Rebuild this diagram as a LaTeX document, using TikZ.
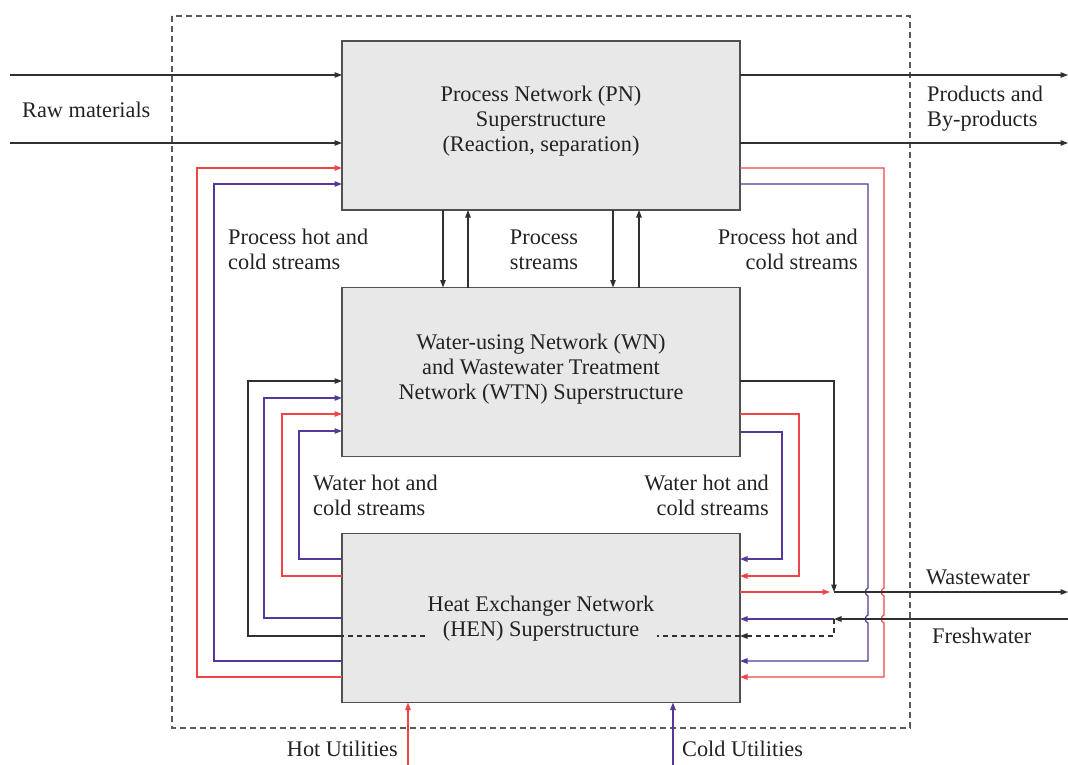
\documentclass[tikz,border=0pt]{standalone}
\usepackage{fontspec}
\setmainfont{Liberation Serif}
\usetikzlibrary{arrows.meta}
\definecolor{boxfill}{HTML}{E8E8E8}
\definecolor{boxline}{HTML}{505050}
\definecolor{darkline}{HTML}{303030}
\definecolor{hotred}{HTML}{F04545}
\definecolor{coldblue}{HTML}{55389A}
\definecolor{framegray}{HTML}{5A5A5A}
\definecolor{txt}{HTML}{222222}
\newcommand\lblfont{\fontsize{22.3}{24.7}\selectfont}
\tikzset{
  every node/.style={font=\lblfont, text=txt},
  unitbox/.style={draw=boxline, fill=boxfill, line width=1.4pt,
    minimum width=398pt, minimum height=169pt, inner sep=0pt, outer sep=0pt},
  lbl/.style={inner sep=0pt},
  flow/.style={line width=1.2pt, -{Triangle[length=7.5pt,width=5.5pt]}},
  hot/.style={flow, draw=hotred},
  cold/.style={flow, draw=coldblue},
  plainflow/.style={flow, draw=darkline},
  bypass/.style={flow, draw=darkline, dash pattern=on 5pt off 4pt},
}
\begin{document}
\begin{tikzpicture}[x=1pt,y=-1pt]
\useasboundingbox (0,0) rectangle (1068,765);

% system boundary
\draw[framegray, line width=1.3pt, dash pattern=on 6pt off 4pt] (172,16) rectangle (910,728);

% the three superstructures
\node[unitbox] (PN)  at (541,125.5) {};
\node[unitbox] (WN)  at (541,372) {};
\node[unitbox] (HEN) at (541,618) {};

\node[lbl, align=center] (PNt) at (541,121) {Process Network (PN)\\Superstructure\\(Reaction, separation)};
\node[lbl, align=center] (WNt) at (541,369) {Water-using Network (WN)\\and Wastewater Treatment\\Network (WTN) Superstructure};

% freshwater bypass line running through the HEN
\draw[darkline, line width=1.2pt, dash pattern=on 5pt off 4pt] (HEN.east |- 0,636) -- (HEN.west |- 0,636);
\node[lbl, align=center, fill=boxfill, inner sep=3pt] (HENt) at (541,618.5) {Heat Exchanger Network\\(HEN) Superstructure};

% raw materials and products
\coordinate (rm1) at (10,75);
\coordinate (rm2) at (10,143);
\coordinate (pr1) at (1068,75);
\coordinate (pr2) at (1068,143);
\draw[plainflow] (rm1) -- (PN.west |- rm1);
\draw[plainflow] (rm2) -- (PN.west |- rm2);
\draw[plainflow] (PN.east |- pr1) -- (pr1);
\draw[plainflow] (PN.east |- pr2) -- (pr2);
\node[lbl, anchor=west] (rmt) at (22,110) {Raw materials};
\node[lbl, anchor=west, align=left] (prt) at (927,109) {Products and\\By-products};

% process streams between PN and WN
\draw[plainflow] (PN.south -| 443,0) -- (WN.north -| 443,0);
\draw[plainflow] (WN.north -| 468,0) -- (PN.south -| 468,0);
\draw[plainflow] (PN.south -| 613,0) -- (WN.north -| 613,0);
\draw[plainflow] (WN.north -| 639,0) -- (PN.south -| 639,0);
\node[lbl, align=center] (pst) at (544,249.5) {Process\\streams};

% process hot and cold streams, HEN -> PN (left side)
\draw[hot]  (HEN.west |- 0,677) -- (197,677) -- (197,168) -- (PN.west |- 0,168);
\draw[cold] (HEN.west |- 0,661) -- (214,661) -- (214,184) -- (PN.west |- 0,184);
\node[lbl, anchor=west, align=left] (phl) at (228,249.5) {Process hot and\\cold streams};

% process hot and cold streams, PN -> HEN (right side, hopping over the water lines)
\draw[hot] (PN.east |- 0,168) -- (884,168) -- (884,588)
  .. controls (880.5,589) and (880.5,595) .. (884,596) -- (884,615)
  .. controls (880.5,616) and (880.5,622) .. (884,623) -- (884,677) -- (HEN.east |- 0,677);
\draw[cold] (PN.east |- 0,184) -- (868,184) -- (868,588)
  .. controls (864.5,589) and (864.5,595) .. (868,596) -- (868,615)
  .. controls (864.5,616) and (864.5,622) .. (868,623) -- (868,661) -- (HEN.east |- 0,661);
\node[lbl, anchor=east, align=right] (phr) at (858,249.5) {Process hot and\\cold streams};

% water hot and cold streams, HEN -> WN (left side)
\draw[plainflow] (HEN.west |- 0,636) -- (248,636) -- (248,381) -- (WN.west |- 0,381);
\draw[cold] (HEN.west |- 0,618) -- (264,618) -- (264,398) -- (WN.west |- 0,398);
\draw[hot]  (HEN.west |- 0,576) -- (282,576) -- (282,414) -- (WN.west |- 0,414);
\draw[cold] (HEN.west |- 0,559) -- (299,559) -- (299,431) -- (WN.west |- 0,431);
\node[lbl, anchor=west, align=left] (whl) at (313,495.5) {Water hot and\\cold streams};

% water hot and cold streams, WN -> HEN (right side)
\draw[hot]  (WN.east |- 0,414) -- (799,414) -- (799,576) -- (HEN.east |- 0,576);
\draw[cold] (WN.east |- 0,432) -- (782,432) -- (782,559) -- (HEN.east |- 0,559);
\node[lbl, anchor=east, align=right] (whr) at (769,495.5) {Water hot and\\cold streams};

% wastewater outlet
\coordinate (wwj) at (834,592);
\coordinate (wwout) at (1068,592);
\draw[plainflow] (WN.east |- 0,381) -- (834,381) -- (wwj);
\draw[hot] (HEN.east |- wwj) -- (830,592);
\draw[plainflow] (wwj) -- (wwout);
\node[lbl, anchor=west] (wwt) at (926,577) {Wastewater};

% freshwater inlet
\coordinate (fwj) at (834,619);
\coordinate (fwin) at (1068,619);
\draw[plainflow] (fwin) -- (fwj);
\draw[cold] (fwj) -- (HEN.east |- fwj);
\draw[bypass] (fwj) -- (834,636) -- (HEN.east |- 0,636);
\node[lbl, anchor=west] (fwt) at (932,636) {Freshwater};

% utilities
\coordinate (hu) at (408,765);
\coordinate (cu) at (673,765);
\draw[hot]  (hu) -- (HEN.south -| hu);
\draw[cold] (cu) -- (HEN.south -| cu);
\node[lbl, anchor=east] (hut) at (398,749) {Hot Utilities};
\node[lbl, anchor=west] (cut) at (682,749) {Cold Utilities};
\end{tikzpicture}
\end{document}
